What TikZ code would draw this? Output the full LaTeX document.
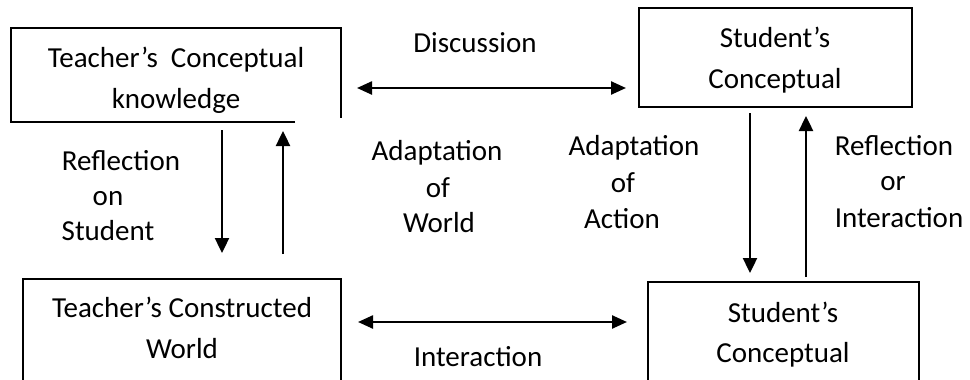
\documentclass[tikz,border=0pt]{standalone}
\usepackage{fontspec}
\setmainfont{Carlito}
\usetikzlibrary{arrows.meta}
\begin{document}
\begin{tikzpicture}[x=1pt,y=-1pt,
  txt/.style={anchor=base,inner sep=0pt,font=\fontsize{29}{35}\selectfont},
  boxline/.style={line width=1.6pt},
  box/.style={draw,boxline,inner sep=0pt},
  arr/.style={line width=2.4pt,-{Triangle[length=15pt,width=14pt]}},
  darr/.style={line width=2.4pt,{Triangle[length=15pt,width=13pt]}-{Triangle[length=15pt,width=13pt]}}]
\useasboundingbox (0,0) rectangle (970,380);
\clip (0,0) rectangle (970,380);

% boxes
\node[inner sep=0pt,minimum width=330pt,minimum height=94pt] (tl) at (176,75) {};
\draw[boxline] (tl.south east) ++(-46,0) -- (tl.south west) -- (tl.north west) -- (tl.north east) -- ++(0,90);
\node[box,minimum width=273pt,minimum height=99pt] (tr) at (775.5,57.5) {};
\node[box,minimum width=318pt,minimum height=121pt] (bl) at (182,339.5) {};
\node[box,minimum width=271pt,minimum height=118pt] (br) at (783.5,341) {};

% box texts
\node[txt] (tl1) at (176,67) {Teacher’s~ Conceptual};
\node[txt] (tl2) at (176,108) {knowledge};
\node[txt] (tr1) at (775,47) {Student’s};
\node[txt] (tr2) at (775,88) {Conceptual};
\node[txt] (bl1) at (182,317) {Teacher’s Constructed};
\node[txt] (bl2) at (182,358) {World};
\node[txt] (br1) at (783,322) {Student’s};
\node[txt] (br2) at (783,362) {Conceptual};

% labels
\node[txt] (disc) at (475,52) {Discussion};
\node[txt] (inter) at (478,366) {Interaction};
\node[txt] (rs1) at (121,170) {Reflection};
\node[txt] (rs2) at (108,205) {on};
\node[txt] (rs3) at (108,240) {Student};
\node[txt] (aw1) at (437,160) {Adaptation};
\node[txt] (aw2) at (438,197) {of};
\node[txt] (aw3) at (439,232) {World};
\node[txt] (aa1) at (634,155) {Adaptation};
\node[txt] (aa2) at (623,192) {of};
\node[txt] (aa3) at (622,228) {Action};
\node[txt] (ri1) at (894,155) {Reflection};
\node[txt] (ri2) at (893,190) {or};
\node[txt] (ri3) at (899,227) {Interaction};

% arrow end points
\coordinate (d1) at (357,88);
\coordinate (d2) at (626,88);
\coordinate (i1) at (358,322);
\coordinate (i2) at (627,322);
\coordinate (ld1) at (222,130);
\coordinate (ld2) at (222,253);
\coordinate (lu1) at (283,254);
\coordinate (lu2) at (283,131);
\coordinate (rd1) at (750,113);
\coordinate (rd2) at (750,273);
\coordinate (ru1) at (806,277);
\coordinate (ru2) at (806,116);

\draw[darr] (d1) -- (d2);
\draw[darr] (i1) -- (i2);
\draw[arr] (ld1) -- (ld2);
\draw[arr] (lu1) -- (lu2);
\draw[arr] (rd1) -- (rd2);
\draw[arr] (ru1) -- (ru2);
\end{tikzpicture}
\end{document}
